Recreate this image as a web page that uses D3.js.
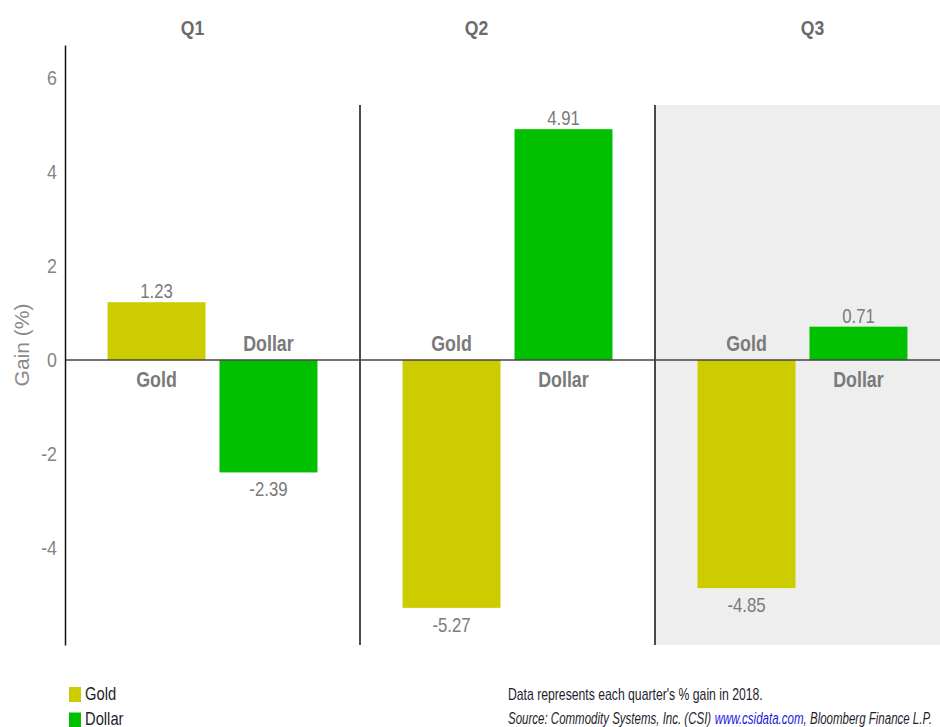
<!DOCTYPE html>
<html>
<head>
<meta charset="utf-8">
<script src="https://cdn.jsdelivr.net/npm/d3@7"></script>
<style>
  html, body { margin: 0; padding: 0; background: #fff; }
  svg { display: block; }
  text { font-family: "Liberation Sans", Arial, sans-serif; }
</style>
</head>
<body>
<svg id="chart" width="940" height="727"></svg>
<script>
// ---- data ----
const quarters = ["Q1", "Q2", "Q3"];
const seriesNames = ["Gold", "Dollar"];
const goldValues = [1.23, -5.27, -4.85];
const dollarValues = [-2.39, 4.91, 0.71];
const yTickValues = [-4, -2, 0, 2, 4, 6];
const seriesColors = ["#cccc00", "#00c000"];
const highlightedQuarter = "Q3";
const yLabel = "Gain (%)";
const noteLine1 = "Data represents each quarter's % gain in 2018.";
const sourceParts = ["Source: Commodity Systems, Inc. (CSI) ", "www.csidata.com", ", Bloomberg Finance L.P."];
const sourceColors = ["#1e1e2e", "#1a1adc", "#1e1e2e"];

// ---- layout ----
const W = 940, H = 727;
const mLeft = 65, mTop = 45, mBottom = 645, panelTop = 105;
const svg = d3.select("#chart");

// horizontally condense a text around its anchor point
function condense(sel, sx) {
  sel.each(function () {
    const t = d3.select(this);
    const x = +t.attr("x") || 0, yy = +t.attr("y") || 0;
    t.attr("x", 0).attr("y", 0)
     .attr("transform", `translate(${x},${yy}) scale(${sx},1)`);
  });
}
const fmt = v => v.toFixed(2);

const rows = [];
quarters.forEach((q, i) => {
  rows.push({ quarter: q, series: "Gold", value: goldValues[i] });
  rows.push({ quarter: q, series: "Dollar", value: dollarValues[i] });
});

const x0 = d3.scaleBand().domain(quarters).range([mLeft, mLeft + 295 * 3]);
const x1 = d3.scaleBand().domain(seriesNames).range([0, x0.bandwidth()])
  .paddingInner(0.125).paddingOuter(0.38);
const y = d3.scaleLinear().domain([-6.06, 6.7]).range([mBottom, mTop]);
const color = d3.scaleOrdinal().domain(seriesNames).range(seriesColors);

// highlighted panel background
svg.append("rect")
  .attr("x", x0(highlightedQuarter))
  .attr("y", panelTop)
  .attr("width", W - x0(highlightedQuarter))
  .attr("height", mBottom - panelTop)
  .attr("fill", "#eeeeee");

// panel dividers
svg.selectAll("line.div").data(quarters.slice(1)).join("line")
  .attr("class", "div")
  .attr("x1", d => x0(d)).attr("x2", d => x0(d))
  .attr("y1", panelTop).attr("y2", mBottom)
  .attr("stroke", "#111").attr("stroke-width", 1.5);

// quarter headers
const headerShift = { Q1: -20, Q2: -31, Q3: 10 };
svg.selectAll("text.qh").data(quarters).join("text")
  .attr("class", "qh")
  .attr("x", d => x0(d) + x0.bandwidth() / 2 + headerShift[d])
  .attr("y", 35)
  .attr("text-anchor", "middle")
  .attr("font-size", 20).attr("font-weight", "bold")
  .attr("fill", "#6b6b6b")
  .text(d => d)
  .call(condense, 0.88);

// bars
svg.selectAll("rect.bar").data(rows).join("rect")
  .attr("class", "bar")
  .attr("x", d => x0(d.quarter) + x1(d.series))
  .attr("width", x1.bandwidth())
  .attr("y", d => y(Math.max(0, d.value)))
  .attr("height", d => Math.abs(y(d.value) - y(0)))
  .attr("fill", d => color(d.series));

// value labels
svg.selectAll("text.val").data(rows).join("text")
  .attr("class", "val")
  .attr("x", d => x0(d.quarter) + x1(d.series) + x1.bandwidth() / 2)
  .attr("y", d => d.value >= 0 ? y(d.value) - 4 : y(d.value) + 24)
  .attr("text-anchor", "middle")
  .attr("font-size", 20)
  .attr("fill", "#7a7a7a")
  .text(d => fmt(d.value))
  .call(condense, 0.84);

// category labels near zero line
svg.selectAll("text.cat").data(rows).join("text")
  .attr("class", "cat")
  .attr("x", d => x0(d.quarter) + x1(d.series) + x1.bandwidth() / 2)
  .attr("y", d => d.value >= 0 ? y(0) + 27 : y(0) - 9)
  .attr("text-anchor", "middle")
  .attr("font-size", 22).attr("font-weight", "bold")
  .attr("fill", "#7a7a7a")
  .text(d => d.series)
  .call(condense, 0.81);

// zero line
svg.append("line")
  .attr("x1", mLeft).attr("x2", W)
  .attr("y1", y(0)).attr("y2", y(0))
  .attr("stroke", "#444").attr("stroke-width", 1.5);

// y axis
const tickSx = 0.85;
const yAxis = d3.axisLeft(y).tickValues(yTickValues).tickSize(0).tickSizeOuter(0).tickPadding(8)
  .tickFormat(d => String(d));
const gy = svg.append("g").attr("transform", `translate(${mLeft},0)`).call(yAxis);
gy.select(".domain").attr("stroke", "#111").attr("stroke-width", 1.5);
gy.selectAll(".tick text")
  .attr("font-family", "'Liberation Sans', Arial, sans-serif")
  .attr("font-size", 21).attr("fill", "#858585")
  .attr("x", -8 / tickSx)
  .attr("transform", `scale(${tickSx},1)`);

// y label
svg.append("text")
  .attr("transform", `translate(29,${345}) rotate(-90)`)
  .attr("text-anchor", "middle")
  .attr("font-size", 21).attr("fill", "#8a8a8a")
  .text(yLabel);

// legend
const legend = svg.append("g").selectAll("g").data(seriesNames).join("g")
  .attr("transform", (d, i) => `translate(69,${687 + i * 25.5})`);
legend.append("rect").attr("width", 12).attr("height", 15).attr("fill", d => color(d));
legend.append("text").attr("x", 16).attr("y", 12.5)
  .attr("font-size", 18).attr("fill", "#1e1e2e").text(d => d)
  .call(condense, 0.82);

// notes
const n1 = svg.append("text")
  .attr("x", 508).attr("y", 700)
  .attr("font-size", 16).attr("fill", "#1e1e2e")
  .text(noteLine1);
n1.call(condense, 255 / n1.node().getComputedTextLength());

const srcG = svg.append("g");
const srcTexts = srcG.selectAll("text").data(sourceParts).join("text")
  .attr("font-size", 16).attr("font-style", "italic")
  .style("white-space", "pre")
  .attr("fill", (d, i) => sourceColors[i])
  .text(d => d);
let acc = 0;
const offsets = [];
srcTexts.each(function () { offsets.push(acc); acc += this.getComputedTextLength(); });
srcTexts.attr("x", (d, i) => offsets[i]);
srcG.attr("transform", `translate(508,724) scale(${424 / acc},1)`);
</script>
</body>
</html>
